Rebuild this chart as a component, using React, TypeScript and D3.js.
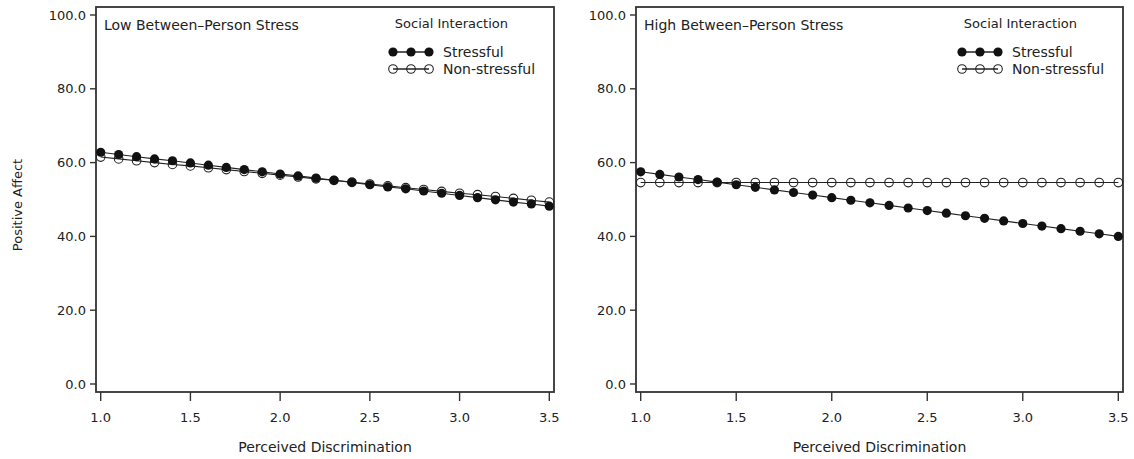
import * as React from 'react';
import * as d3 from 'd3';

const discrimination = [
  1.0, 1.1, 1.2, 1.3, 1.4, 1.5, 1.6, 1.7, 1.8, 1.9, 2.0, 2.1, 2.2,
  2.3, 2.4, 2.5, 2.6, 2.7, 2.8, 2.9, 3.0, 3.1, 3.2, 3.3, 3.4, 3.5,
];

const lowStressful = [
  62.8, 62.2, 61.6, 61.0, 60.5, 59.9, 59.3, 58.7, 58.1, 57.5, 56.9, 56.4, 55.8,
  55.2, 54.6, 54.0, 53.4, 52.9, 52.3, 51.7, 51.1, 50.5, 49.9, 49.3, 48.8, 48.2,
];
const lowNonStressful = [
  61.5, 61.0, 60.5, 60.0, 59.5, 59.1, 58.6, 58.1, 57.6, 57.1, 56.6, 56.1, 55.6,
  55.2, 54.7, 54.2, 53.7, 53.2, 52.7, 52.2, 51.7, 51.3, 50.8, 50.3, 49.8, 49.3,
];
const highStressful = [
  57.5, 56.8, 56.1, 55.4, 54.7, 54.0, 53.3, 52.6, 51.9, 51.2, 50.5, 49.8, 49.1,
  48.4, 47.7, 47.0, 46.3, 45.6, 44.9, 44.2, 43.5, 42.8, 42.1, 41.4, 40.7, 40.0,
];
const highNonStressful = [
  54.6, 54.6, 54.6, 54.6, 54.6, 54.6, 54.6, 54.6, 54.6, 54.6, 54.6, 54.6, 54.6,
  54.6, 54.6, 54.6, 54.6, 54.6, 54.6, 54.6, 54.6, 54.6, 54.6, 54.6, 54.6, 54.6,
];

const xTicks = [1.0, 1.5, 2.0, 2.5, 3.0, 3.5];
const yTicks = [0, 20, 40, 60, 80, 100];
const legendLabels = ['Stressful', 'Non-stressful'];

const FONT = '"DejaVu Sans", sans-serif';
const INK = '#222';

const Panel = ({ left, right, title, stressful, nonStressful }) => {
  const top = 7;
  const bottom = 392;
  const x = d3.scaleLinear().domain([1.0, 3.5]).range([left + 4.7, right - 4.7]);
  const y = d3.scaleLinear().domain([0, 100]).range([384, 15]);
  const line = d3
    .line<number>()
    .x((d, i) => x(discrimination[i]))
    .y((d) => y(d));
  const fmt = d3.format('.1f');
  const lx = right - 111; // legend text start
  const legendMarks = [lx - 50, lx - 32, lx - 14];

  return (
    <g>
      <rect x={left} y={top} width={right - left} height={bottom - top}
        fill='none' stroke='#333' strokeWidth={1.8} />
      {yTicks.map((t) => (
        <g key={t}>
          <line x1={left - 6} x2={left} y1={y(t)} y2={y(t)} stroke='#333' strokeWidth={1.4} />
          <text x={left - 10} y={y(t)} dy='0.35em' textAnchor='end' fontSize='13' fill={INK}>
            {fmt(t)}
          </text>
        </g>
      ))}
      {xTicks.map((t) => (
        <g key={t}>
          <line x1={x(t)} x2={x(t)} y1={bottom} y2={bottom + 9} stroke='#333' strokeWidth={1.4} />
          <text x={x(t)} y={422} textAnchor='middle' fontSize='13' fill={INK}>
            {fmt(t)}
          </text>
        </g>
      ))}
      <text x={(left + right) / 2} y={452} textAnchor='middle' fontSize='14' fill={INK}>
        Perceived Discrimination
      </text>
      <text x={left + 8} y={30} fontSize='14' fill={INK}>{title}</text>
      <text x={right - 46} y={28} textAnchor='end' fontSize='13' fill={INK}>
        Social Interaction
      </text>

      <path d={line(nonStressful)} fill='none' stroke={INK} strokeWidth={1.1} />
      <path d={line(stressful)} fill='none' stroke={INK} strokeWidth={1.1} />
      {nonStressful.map((d, i) => (
        <circle key={'n' + i} cx={x(discrimination[i])} cy={y(d)} r={4.3}
          fill='none' stroke={INK} strokeWidth={1.1} />
      ))}
      {stressful.map((d, i) => (
        <circle key={'s' + i} cx={x(discrimination[i])} cy={y(d)} r={4.6} fill='#111' />
      ))}

      {legendLabels.map((lab, k) => {
        const ly = 52 + k * 17;
        return (
          <g key={lab}>
            <line x1={legendMarks[0]} x2={legendMarks[2]} y1={ly} y2={ly} stroke={INK} strokeWidth={1.4} />
            {legendMarks.map((mx) =>
              k === 0 ? (
                <circle key={mx} cx={mx} cy={ly} r={4.6} fill='#111' />
              ) : (
                <circle key={mx} cx={mx} cy={ly} r={4.3} fill='none' stroke={INK} strokeWidth={1.1} />
              )
            )}
            <text x={lx} y={ly} dy='0.35em' fontSize='14' fill={INK}>{lab}</text>
          </g>
        );
      })}
    </g>
  );
};

const App = () => {
  return (
    <svg width={1134} height={459} style={{ position: 'absolute', left: 0, top: 0, fontFamily: FONT }}>
      <rect width={1134} height={459} fill='white' />
      <text transform='translate(22 205) rotate(-90)' textAnchor='middle' fontSize='13' fill={INK}>
        Positive Affect
      </text>
      <Panel left={96} right={554} title='Low Between–Person Stress'
        stressful={lowStressful} nonStressful={lowNonStressful} />
      <Panel left={636} right={1123} title='High Between–Person Stress'
        stressful={highStressful} nonStressful={highNonStressful} />
    </svg>
  );
};

export default App;
